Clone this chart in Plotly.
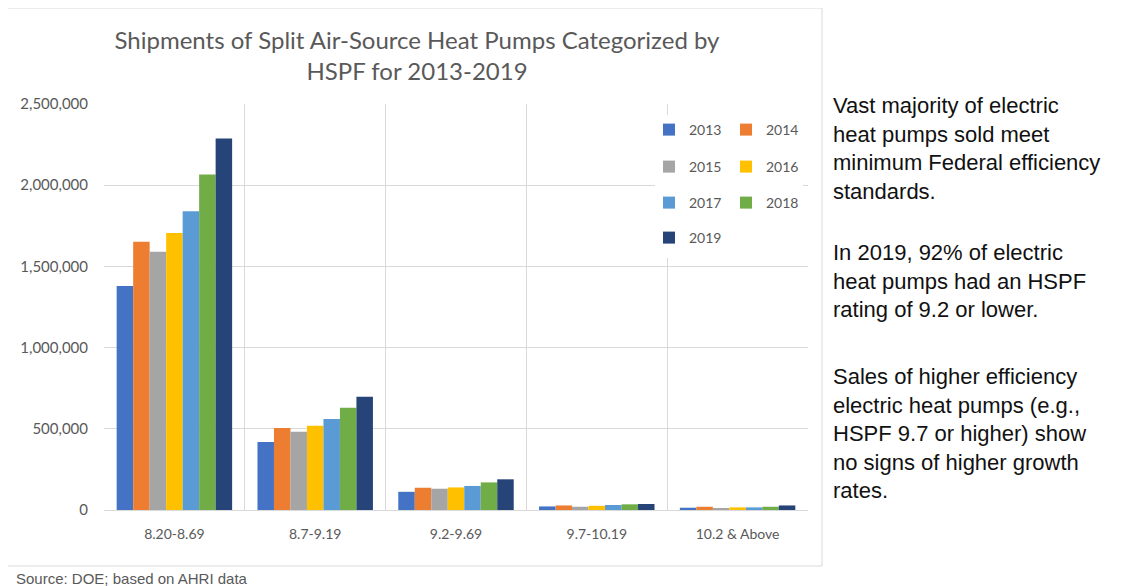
import plotly.graph_objects as go

# HSPF bins and shipment counts
CATEGORIES = ["8.20-8.69", "8.7-9.19", "9.2-9.69", "9.7-10.19", "10.2 & Above"]
YEARS = ["2013", "2014", "2015", "2016", "2017", "2018", "2019"]
COLORS = ["#4472C4", "#ED7D31", "#A5A5A5", "#FFC000", "#5B9BD5", "#70AD47", "#264478"]

S2013 = [1380000, 418000, 112000, 22000, 14000]
S2014 = [1652000, 505000, 137000, 28000, 20000]
S2015 = [1590000, 482000, 131000, 20000, 12000]
S2016 = [1706000, 519000, 139000, 26000, 16000]
S2017 = [1840000, 560000, 148000, 31000, 16000]
S2018 = [2066000, 630000, 170000, 35000, 20000]
S2019 = [2288000, 698000, 189000, 37000, 28000]
SERIES = [S2013, S2014, S2015, S2016, S2017, S2018, S2019]

NOTES = [
    "Vast majority of electric<br>heat pumps sold meet<br>minimum Federal efficiency<br>standards.",
    "In 2019, 92% of electric<br>heat pumps had an HSPF<br>rating of 9.2 or lower.",
    "Sales of higher efficiency<br>electric heat pumps (e.g.,<br>HSPF 9.7 or higher) show<br>no signs of higher growth<br>rates.",
]
SOURCE = "Source: DOE; based on AHRI data"
TITLE = "Shipments of Split Air-Source Heat Pumps Categorized by<br>HSPF for 2013-2019"

# the page body adds an 8px margin, so the figure is drawn 8px smaller
# and every reference pixel position is shifted back by that amount
PAD = 8
W, H = 1143 - PAD, 586 - PAD
L, R, T, B = 104, 808, 104, 510  # plot area in reference pixels
GREY = "#595959"
GRID = "#d9d9d9"
CHART_FONT = "Lato"


def px_x(x):
    return (x - L) / (R - L)


def px_y(y):
    return (B - y) / (B - T)


fig = go.Figure()
for i, (year, vals) in enumerate(zip(YEARS, SERIES)):
    row = i // 2
    fig.add_trace(go.Bar(
        x=CATEGORIES, y=vals, name=year,
        marker_color=COLORS[i], marker_line_width=0,
        legend="legend" if row == 0 else f"legend{row + 1}",
    ))

legend_rows = [130, 167, 203, 238]
legend_style = dict(
    orientation="h", xanchor="left", yanchor="middle",
    bgcolor="rgba(0,0,0,0)", entrywidth=32, entrywidthmode="pixels",
    font=dict(family=CHART_FONT, size=14, color=GREY),
    itemclick=False, itemdoubleclick=False,
)
legends = {}
for r, yy in enumerate(legend_rows):
    key = "legend" if r == 0 else f"legend{r + 1}"
    legends[key] = dict(legend_style, x=px_x(649), y=px_y(yy))

annotations = []
for text, top in zip(NOTES, [91, 238, 362]):
    annotations.append(dict(
        text=text, xref="paper", yref="paper", x=px_x(831), y=px_y(top),
        xanchor="left", yanchor="top", align="left", showarrow=False,
        font=dict(family="Liberation Sans, Arial", size=22, color="#111111"),
    ))
annotations.append(dict(
    text=SOURCE, xref="paper", yref="paper", x=px_x(14), y=px_y(578),
    xanchor="left", yanchor="middle", showarrow=False,
    font=dict(family="Liberation Sans, Arial", size=15, color=GREY),
))

shapes = [
    # chart frame
    dict(type="rect", xref="paper", yref="paper",
         x0=px_x(6), x1=px_x(822), y0=px_y(566), y1=px_y(8),
         line=dict(color=GRID, width=1), fillcolor="rgba(0,0,0,0)", layer="below"),
    # white backing behind the legend
    dict(type="rect", xref="paper", yref="paper",
         x0=px_x(655), x1=px_x(803), y0=px_y(258), y1=px_y(115),
         line=dict(width=0), fillcolor="white", layer="above"),
]

fig.update_layout(
    width=W, height=H,
    margin=dict(l=L - PAD, r=W - (R - PAD), t=T - PAD, b=H - (B - PAD), autoexpand=False),
    paper_bgcolor="white", plot_bgcolor="white",
    barmode="group", bargap=0.18, bargroupgap=0,
    font=dict(family=CHART_FONT, color=GREY),
    title=dict(text=TITLE, x=(417 - PAD) / W, xanchor="center", xref="container",
               y=1 - (49 - PAD) / H, yanchor="middle", yref="container",
               font=dict(family=CHART_FONT, size=24, color=GREY)),
    xaxis=dict(type="category", tickson="boundaries", showgrid=True,
               gridcolor=GRID, gridwidth=1, ticks="", showline=True,
               linecolor=GRID, linewidth=1, ticklabelstandoff=11,
               tickfont=dict(family=CHART_FONT, size=14, color=GREY)),
    yaxis=dict(range=[0, 2500000], dtick=500000, tickformat=",",
               showgrid=True, gridcolor=GRID, gridwidth=1, zeroline=False,
               ticks="", ticklabelstandoff=15,
               tickfont=dict(family=CHART_FONT, size=15, color=GREY)),
    annotations=annotations,
    shapes=shapes,
    **legends,
)

fig.write_html("out.html")
